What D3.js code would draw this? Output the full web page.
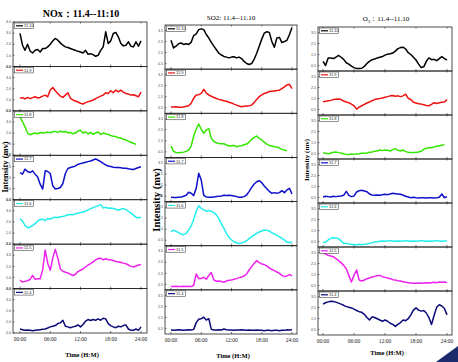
<!DOCTYPE html>
<meta charset="utf-8">
<script src="https://d3js.org/d3.v7.min.js"></script>
<style>
  body { margin: 0; background: #fff; }
  text { font-family: "Liberation Serif", "DejaVu Serif", serif; }
</style>
<div id="my_dataviz"></div>
<script>

// sampling times (hours), every half hour
var hours = [0,0.5,1,1.5,2,2.5,3,3.5,4,4.5,5,5.5,6,6.5,7,7.5,8,8.5,9,9.5,10,10.5,11,11.5,
             12,12.5,13,13.5,14,14.5,15,15.5,16,16.5,17,17.5,18,18.5,19,19.5,20,20.5,21,21.5,22,22.5,23,23.5,24];

// legend labels (one per stacked subplot) and x tick labels
var days = ["11.10","11.9","11.8","11.7","11.6","11.5","11.4"];
var timeTicks = [0,6,12,18,24];
var timeLabels = ["00:00","06:00","12:00","18:00","24:00"];

// NOx
var nox_1110 = [2.97,1.91,1.45,2.0,1.39,1.21,1.45,1.52,1.30,1.61,1.61,1.76,2.0,2.30,2.52,2.36,2.12,1.91,1.76,1.70,1.61,1.52,1.45,1.36,1.30,1.21,1.45,1.09,1.15,1.06,0.91,1.0,1.45,1.76,3.12,2.06,2.30,2.97,3.06,2.67,2.06,1.85,1.91,2.21,1.82,1.76,2.21,1.82,2.30];
var nox_119  = [1.13,1.19,1.07,1.21,1.10,1.19,1.27,1.16,1.21,1.33,1.42,1.27,1.87,2.10,1.81,1.57,1.33,1.21,1.42,1.63,1.13,0.98,0.89,0.80,0.68,0.62,0.74,0.83,0.89,0.98,1.10,1.21,1.33,1.42,1.63,1.57,1.81,1.63,1.87,1.72,1.87,1.69,1.57,1.51,1.42,1.45,1.36,1.27,1.69];
var nox_118  = [3.45,3.02,2.55,2.0,1.85,1.94,2.0,1.94,2.06,2.0,2.03,2.09,2.03,2.12,2.15,2.06,2.18,2.09,2.15,2.03,2.06,1.94,2.0,2.18,2.25,2.0,2.09,1.94,2.06,1.88,2.0,2.09,1.88,2.0,1.94,1.88,1.78,1.72,1.69,1.57,1.54,1.45,1.38,1.26,1.17,1.08,0.98];
var nox_117  = [2.45,2.30,2.75,2.54,2.45,2.60,2.30,2.06,1.40,0.96,2.60,2.54,2.36,1.25,0.96,1.01,1.10,1.46,2.36,2.81,2.90,2.96,3.04,3.19,3.25,3.31,3.37,3.43,3.49,3.58,3.67,3.55,3.43,3.28,3.13,3.04,2.99,2.93,2.90,2.90,2.87,2.84,2.84,2.78,2.75,2.72,2.81,2.90,2.96];
var nox_116  = [2.28,2.07,1.69,1.48,1.54,1.66,1.84,2.07,2.22,2.25,2.13,2.31,2.25,2.37,2.43,2.40,2.46,2.49,2.55,2.64,2.67,2.64,2.73,2.79,2.84,2.90,2.96,3.08,3.20,3.29,3.38,3.47,3.56,3.26,3.32,3.23,3.26,3.20,3.14,3.08,3.14,3.20,3.11,2.96,2.79,2.61,2.43,2.37,2.43];
var nox_115  = [0.76,0.59,0.65,0.71,0.82,1.18,0.82,0.88,0.88,1.71,3.47,2.29,1.65,2.74,3.53,2.74,1.76,1.56,1.47,1.41,1.29,1.18,1.29,1.53,1.65,1.76,1.94,2.12,2.24,2.41,2.59,2.71,2.74,2.59,2.68,2.59,2.59,2.53,2.44,2.41,2.35,2.29,2.24,2.12,2.0,1.94,2.03,2.12,2.15];
var nox_114  = [0.36,0.30,0.24,0.27,0.24,0.21,0.24,0.27,0.30,0.33,0.36,0.45,0.55,0.61,0.67,0.85,0.91,1.15,0.61,0.55,0.48,0.55,0.61,0.73,0.55,0.76,1.06,1.21,1.12,1.21,1.15,1.27,1.15,1.33,1.27,0.85,0.67,0.55,0.48,0.61,0.55,0.67,0.73,0.36,0.24,0.24,0.36,0.24,0.55];

// SO2
var so2_1110 = [2.62,1.92,2.08,2.30,2.37,2.24,2.30,2.24,2.43,3.04,3.20,3.58,3.65,3.58,3.14,2.82,2.43,2.08,1.76,1.44,1.28,1.15,1.09,1.02,1.09,1.12,1.02,1.09,0.96,0.70,0.51,0.42,0.51,0.90,1.44,2.08,2.72,3.26,3.39,3.33,2.50,1.98,2.82,2.88,2.40,2.50,2.62,3.14,3.78];
var so2_119  = [0.57,0.57,0.60,0.54,0.54,0.57,0.63,0.69,0.91,1.37,1.66,1.69,1.80,2.17,1.83,1.66,1.54,1.43,1.34,1.26,1.20,1.14,1.09,1.00,0.94,0.83,0.74,0.66,0.60,0.63,0.66,0.69,0.74,0.97,1.26,1.51,1.66,1.80,1.86,1.97,2.00,2.03,2.06,2.09,2.23,2.40,2.57,2.63,2.23];
var so2_118  = [1.03,0.55,0.45,0.42,0.45,0.48,0.55,0.67,1.03,1.94,2.55,3.03,2.55,2.18,2.48,2.61,1.73,1.45,1.33,1.27,1.24,1.24,1.12,1.03,1.06,1.09,0.97,1.03,1.06,1.15,1.21,1.39,1.64,1.82,1.94,1.73,1.58,1.39,1.21,1.09,1.03,0.97,0.94,0.85,0.73,0.67,0.61];
var so2_117  = [0.39,0.36,0.36,0.39,0.42,0.48,0.57,0.84,0.75,0.54,1.20,2.56,1.95,0.57,0.42,0.39,0.39,0.42,0.45,0.48,0.51,0.57,0.54,0.57,0.54,0.51,0.45,0.39,0.39,0.45,0.60,0.93,1.29,1.59,1.80,1.89,1.71,1.41,1.17,0.93,0.75,0.81,0.75,0.81,0.99,0.81,1.05,1.20,0.69];
var so2_116  = [1.27,1.42,1.30,1.18,1.06,1.00,1.12,1.42,1.79,2.39,3.09,3.61,3.39,3.24,3.12,3.18,3.12,3.00,2.79,2.45,1.97,1.58,1.12,0.76,0.52,0.36,0.27,0.21,0.24,0.33,0.45,0.64,0.82,0.97,1.12,1.24,1.33,1.42,1.39,1.33,1.18,1.06,0.94,0.82,0.67,0.52,0.33,0.27,0.36];
var so2_115  = [0.30,0.30,0.33,0.30,0.30,0.33,0.30,0.33,0.30,0.42,1.44,1.02,1.02,1.14,0.96,1.32,1.56,0.90,0.78,0.81,0.75,0.69,0.81,0.87,0.90,0.96,1.02,1.11,1.17,1.26,1.44,1.80,2.11,2.41,2.65,2.47,2.35,2.29,2.17,1.98,1.86,1.74,1.62,1.50,1.32,1.20,1.26,1.38,1.26];
var so2_114  = [0.36,0.33,0.36,0.39,0.36,0.33,0.36,0.39,0.36,0.42,1.03,1.33,1.39,1.52,1.27,1.39,0.42,0.36,0.36,0.39,0.36,0.45,0.39,0.36,0.36,0.33,0.36,0.36,0.39,0.36,0.33,0.36,0.33,0.33,0.36,0.33,0.33,0.30,0.33,0.33,0.30,0.33,0.33,0.30,0.33,0.33,0.39,0.36,0.39];

// O3
var o3_1110 = [0.88,0.50,1.19,1.19,1.13,1.25,1.41,1.25,1.06,0.75,0.63,0.44,0.31,0.22,0.22,0.25,0.41,0.69,0.88,1.03,1.09,1.19,1.25,1.31,1.44,1.53,1.56,1.63,1.81,2.03,2.13,2.16,2.00,1.66,1.50,1.25,1.00,0.63,0.31,0.38,0.88,1.19,1.03,1.06,0.94,1.13,1.31,1.13,1.00];
var o3_119  = [1.21,1.24,1.30,1.33,1.40,1.43,1.46,1.40,1.27,1.18,1.12,0.99,0.84,0.53,0.71,0.84,0.96,1.09,1.18,1.30,1.40,1.46,1.49,1.55,1.61,1.67,1.74,1.77,1.71,1.74,1.67,1.74,1.89,1.52,1.40,1.15,1.09,1.02,0.99,0.93,0.87,0.84,0.96,1.12,1.05,1.12,1.15,1.18,1.40];
var o3_118  = [0.58,0.52,0.48,0.55,0.61,0.64,0.58,0.55,0.48,0.42,0.42,0.45,0.42,0.45,0.48,0.52,0.52,0.55,0.61,0.64,0.70,0.73,0.82,0.76,0.82,0.79,0.73,0.85,0.94,0.79,0.73,0.82,0.67,0.61,0.58,0.58,0.61,0.64,0.70,0.88,0.97,1.03,1.03,1.09,1.15,1.21,1.24,1.33];
var o3_117  = [0.55,0.61,0.58,0.55,0.61,0.58,0.61,0.64,0.70,1.06,0.70,0.58,0.64,1.00,1.12,1.15,1.09,1.03,0.82,0.73,0.70,0.73,0.70,0.76,0.79,0.76,0.82,0.88,0.85,0.82,0.79,0.70,0.61,0.55,0.48,0.52,0.48,0.45,0.48,0.48,0.45,0.48,0.48,0.45,0.48,0.52,0.82,0.48,0.58];
var o3_116  = [0.39,0.45,0.64,0.79,0.85,0.82,0.76,0.55,0.33,0.33,0.27,0.24,0.21,0.21,0.24,0.21,0.24,0.27,0.33,0.39,0.45,0.48,0.52,0.55,0.52,0.55,0.58,0.55,0.52,0.55,0.52,0.55,0.58,0.55,0.52,0.55,0.52,0.55,0.58,0.55,0.52,0.55,0.52,0.55,0.58,0.55,0.52,0.55,0.58];
var o3_115  = [3.48,3.36,3.24,3.18,3.12,2.94,2.76,2.58,2.33,2.03,1.42,0.82,1.42,1.91,1.00,0.91,1.00,1.12,1.18,1.27,1.33,1.39,1.42,1.30,1.24,1.18,1.12,1.03,1.00,0.94,0.91,0.85,0.79,0.76,0.73,0.70,0.70,0.73,0.70,0.73,0.76,0.73,0.76,0.79,0.76,0.82,0.79,0.82,0.76];
var o3_114  = [2.81,2.93,3.01,3.07,3.04,2.99,2.90,2.81,2.70,2.58,2.52,2.46,2.35,2.23,2.12,2.06,1.88,1.59,1.36,1.65,1.59,1.48,1.36,1.25,1.36,1.25,1.07,0.96,0.78,0.96,1.13,1.36,1.30,1.48,1.83,2.26,2.46,2.26,2.17,2.23,2.00,1.59,0.96,1.77,2.52,2.75,2.64,2.41,1.83];

var dayColor = d3.scaleOrdinal()
  .domain(days)
  .range(["#000000","#ee1111","#33e600","#1010cc","#22eeee","#ee22ee","#0a0a78"]);

var width = 458, height = 362;

var svg = d3.select("#my_dataviz")
  .append("svg")
    .attr("width", width)
    .attr("height", height);

// the three pollutant panels
var panels = [
  { name: "NOx", series: [nox_1110,nox_119,nox_118,nox_117,nox_116,nox_115,nox_114],
    left: 13, right: 147, top: 22, bottom: 333, x0: 20, x24: 141,
    yTicks: [0,1,2,3,4], title: "NOx：11.4--11:10", titleSize: 10, titleBold: true, titleY: 17, titleX: 81,
    ylabX: 6, ylabY: 167, ylabSize: 8.5, timeY: 357 },
  { name: "SO2", series: [so2_1110,so2_119,so2_118,so2_117,so2_116,so2_115,so2_114],
    left: 165, right: 297, top: 25, bottom: 334, x0: 171, x24: 292,
    yTicks: [0.5,1.5,2.5,3.5], title: "SO2: 11.4--11.10", titleSize: 7, titleBold: false, titleY: 20, titleX: 231,
    ylabX: 158, ylabY: 200, ylabSize: 10.5, timeY: 358 },
  { name: "O3", series: [o3_1110,o3_119,o3_118,o3_117,o3_116,o3_115,o3_114],
    left: 318, right: 452, top: 27, bottom: 335, x0: 323, x24: 447,
    yTicks: [0.5,1.5,2.5,3.5], title: null, titleSize: 7, titleBold: false, titleY: 21, titleX: 386,
    ylabX: 307, ylabY: 160, ylabSize: 7, timeY: 355 }
];

panels.forEach(function(p) {
  var g = svg.append("g");
  var x = d3.scaleLinear().domain([0,24]).range([p.x0, p.x24]);
  var rowH = (p.bottom - p.top) / days.length;

  p.series.forEach(function(values, i) {
    var top = p.top + i * rowH, bottom = top + rowH;
    var y = d3.scaleLinear().domain([0,4]).range([bottom, top]);
    var sub = g.append("g");

    // frame
    sub.append("rect")
      .attr("x", p.left).attr("y", top)
      .attr("width", p.right - p.left).attr("height", rowH)
      .attr("fill", "none").attr("stroke", "#222").attr("stroke-width", 0.8);

    // x ticks (inside, bottom and top)
    sub.selectAll("xt").data(timeTicks).enter().append("line")
      .attr("x1", function(d){ return x(d) }).attr("x2", function(d){ return x(d) })
      .attr("y1", bottom).attr("y2", bottom - 2)
      .attr("stroke", "#222").attr("stroke-width", 0.6);
    sub.selectAll("xt2").data(timeTicks).enter().append("line")
      .attr("x1", function(d){ return x(d) }).attr("x2", function(d){ return x(d) })
      .attr("y1", top).attr("y2", top + 1.5)
      .attr("stroke", "#222").attr("stroke-width", 0.6);

    // y ticks and labels
    sub.selectAll("yt").data(p.yTicks).enter().append("line")
      .attr("x1", p.left).attr("x2", p.left + 1.5)
      .attr("y1", function(d){ return y(d) }).attr("y2", function(d){ return y(d) })
      .attr("stroke", "#222").attr("stroke-width", 0.6);
    sub.selectAll("yl").data(p.yTicks).enter().append("text")
      .attr("x", p.left - 2)
      .attr("y", function(d){ return y(d) + 1.2 })
      .attr("text-anchor", "end")
      .style("font-family", "Liberation Sans, sans-serif")
      .attr("font-size", 3.6)
      .attr("fill", "#444")
      .text(function(d){ return d3.format(".1f")(d) });

    // the line
    var line = d3.line()
      .x(function(d, k) { return x(hours[k]) })
      .y(function(d) { return y(d) });
    sub.append("path")
      .datum(values)
      .attr("d", line)
      .attr("fill", "none")
      .attr("stroke", dayColor(days[i]))
      .attr("stroke-width", 1.5)
      .attr("stroke-linejoin", "round");

    // legend
    sub.append("rect")
      .attr("x", p.left + 1.5).attr("y", top + 1)
      .attr("width", 19).attr("height", 5.5)
      .attr("fill", "#fff").attr("stroke", "#222").attr("stroke-width", 0.5);
    sub.append("line")
      .attr("x1", p.left + 3).attr("x2", p.left + 10)
      .attr("y1", top + 3.8).attr("y2", top + 3.8)
      .attr("stroke", dayColor(days[i])).attr("stroke-width", 1.2);
    sub.append("text")
      .attr("x", p.left + 11).attr("y", top + 5.2)
      .style("font-family", "Liberation Sans, sans-serif")
      .attr("font-size", 4)
      .attr("fill", "#222")
      .text(days[i]);
  });

  // time labels
  g.selectAll("tl").data(timeTicks).enter().append("text")
    .attr("x", function(d){ return x(d) })
    .attr("y", p.bottom + 8)
    .attr("text-anchor", "middle")
    .attr("font-size", 5.5)
    .attr("fill", "#222")
    .text(function(d, k){ return timeLabels[k] });

  g.append("text")
    .attr("x", (p.left + p.right) / 2 + 2)
    .attr("y", p.timeY)
    .attr("text-anchor", "middle")
    .attr("font-size", 6.5)
    .attr("font-weight", "bold")
    .text("Time (H:M)");

  // y label
  g.append("text")
    .attr("transform", "translate(" + p.ylabX + "," + p.ylabY + ") rotate(-90)")
    .attr("text-anchor", "middle")
    .attr("dominant-baseline", "middle")
    .attr("font-size", p.ylabSize)
    .attr("font-weight", "bold")
    .text("Intensity (mv)");

  // title
  var t = g.append("text")
    .attr("x", p.titleX).attr("y", p.titleY)
    .attr("text-anchor", "middle")
    .attr("font-size", p.titleSize)
    .attr("font-weight", p.titleBold ? "bold" : "normal");
  if (p.title) {
    t.text(p.title);
  } else {
    t.append("tspan").text("O");
    t.append("tspan").attr("font-size", 5).attr("dy", 1.5).text("3");
    t.append("tspan").attr("dy", -1.5).text("：11.4--11.10");
  }
});

// slide corner decoration
svg.append("path")
  .attr("d", d3.line()([[436,362],[458,346],[458,362]]))
  .attr("fill", "#1b2a6b");

</script>
